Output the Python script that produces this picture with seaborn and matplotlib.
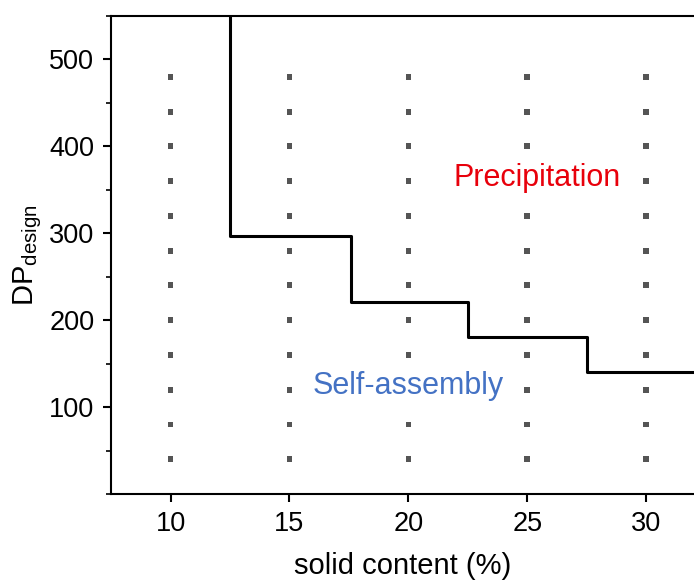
import matplotlib
matplotlib.use("Agg")
import matplotlib.pyplot as plt
import seaborn as sns
import pandas as pd
import numpy as np
from matplotlib.ticker import MultipleLocator

sns.set_style("ticks")
plt.rcParams['font.family'] = ['Liberation Sans', 'DejaVu Sans']
plt.rcParams['mathtext.fontset'] = 'custom'
plt.rcParams['mathtext.rm'] = 'Liberation Sans'
plt.rcParams['mathtext.it'] = 'Liberation Sans'

# grid of tested conditions
solid_content = [10, 15, 20, 25, 30]
dp_design = [40, 80, 120, 160, 200, 240, 280, 320, 360, 400, 440, 480]

# phase boundary (step line)
boundary_x = [12.5, 12.5, 17.6, 22.5, 27.5, 32.5]
boundary_y = [550, 297, 221, 181, 140, 140]

grid = pd.DataFrame([(x, y) for x in solid_content for y in dp_design],
                    columns=["solid", "dp"])
bound = pd.DataFrame({"x": boundary_x, "y": boundary_y})

fig = plt.figure(figsize=(6.94, 5.83), dpi=100)
ax = fig.add_axes([0.160, 0.1527, 0.84, 0.8199])

sns.scatterplot(data=grid, x="solid", y="dp", ax=ax, marker="s", s=18,
                color="#555555", edgecolor="none", linewidth=0, zorder=2)
sns.lineplot(data=bound, x="x", y="y", ax=ax, estimator=None, sort=False,
             drawstyle="steps-post", color="black", linewidth=2.2, zorder=3)

ax.set_xlim(7.5, 32)
ax.set_ylim(0, 550)
ax.set_xticks([10, 15, 20, 25, 30])
ax.set_yticks([100, 200, 300, 400, 500])
ax.yaxis.set_minor_locator(MultipleLocator(50))

bbox = dict(facecolor="white", edgecolor="none", pad=1)
ax.text(25.4, 363, "Precipitation", color="#E8000B", fontsize=22,
        ha="center", va="center", bbox=bbox, zorder=4)
ax.text(20.0, 124, "Self-assembly", color="#4472C4", fontsize=22,
        ha="center", va="center", bbox=bbox, zorder=4)

ax.set_xlabel("solid content (%)", fontsize=21, labelpad=11, color="black")
ax.set_ylabel(r"DP$_{\mathrm{design}}$", fontsize=21, labelpad=4, color="black")

for s in ["left", "bottom", "top"]:
    ax.spines[s].set_linewidth(1.5)
    ax.spines[s].set_color("black")
ax.spines["right"].set_visible(False)

ax.tick_params(axis="both", which="major", direction="out", length=6,
               width=1.5, labelsize=19.5, color="black", labelcolor="black", pad=6)
ax.tick_params(axis="y", which="minor", direction="out", length=3.5, width=1.2,
               color="black")

fig.savefig("out.png", dpi=100)
